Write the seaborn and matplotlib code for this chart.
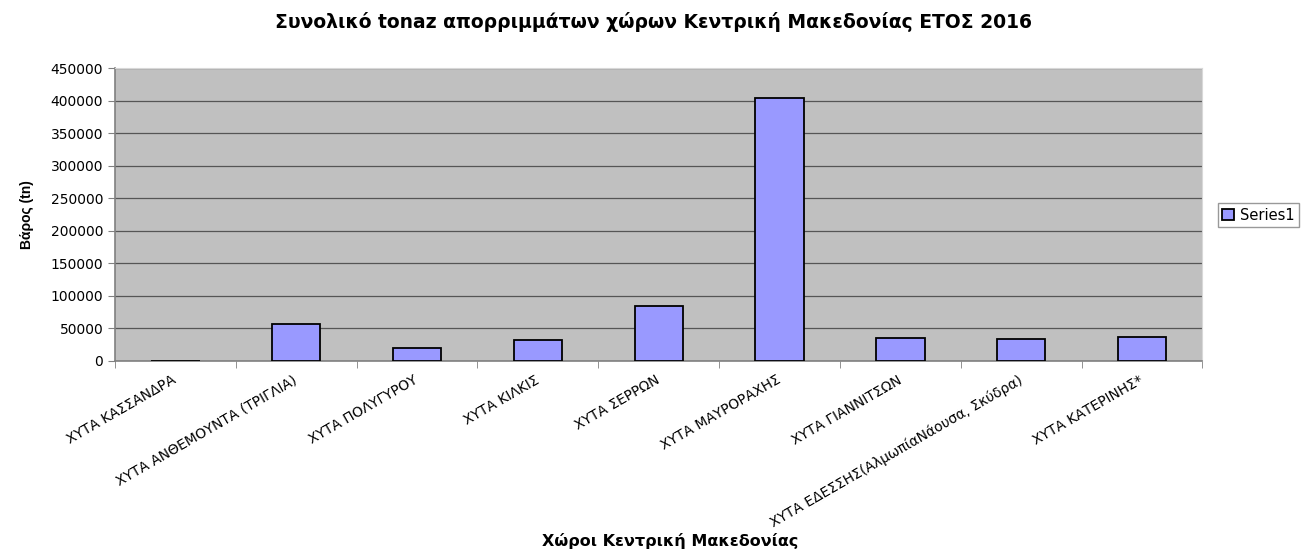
import pandas as pd
import matplotlib.pyplot as plt
import seaborn as sns

sites = [
    "ΧΥΤΑ ΚΑΣΣΑΝΔΡΑ",
    "ΧΥΤΑ ΑΝΘΕΜΟΥΝΤΑ (ΤΡΙΓΛΙΑ)",
    "ΧΥΤΑ ΠΟΛΥΓΥΡΟΥ",
    "ΧΥΤΑ ΚΙΛΚΙΣ",
    "ΧΥΤΑ ΣΕΡΡΩΝ",
    "ΧΥΤΑ ΜΑΥΡΟΡΑΧΗΣ",
    "ΧΥΤΑ ΓΙΑΝΝΙΤΣΩΝ",
    "ΧΥΤΑ ΕΔΕΣΣΗΣ(ΑλμωπίαΝάουσα, Σκύδρα)",
    "ΧΥΤΑ ΚΑΤΕΡΙΝΗΣ*",
]
tonnes = [0, 57200, 19600, 31400, 84500, 403500, 35000, 34000, 36600]
yticks = [0, 50000, 100000, 150000, 200000, 250000, 300000, 350000, 400000, 450000]

df = pd.DataFrame({"site": sites, "tn": tonnes})

sns.set_style("ticks")
plt.rcParams["font.family"] = ["DejaVu Sans"]
plt.rcParams["text.color"] = "black"
plt.rcParams["axes.labelcolor"] = "black"
plt.rcParams["xtick.labelcolor"] = "black"
plt.rcParams["ytick.labelcolor"] = "black"

fig = plt.figure(figsize=(13.07, 5.5), dpi=100)
ax = fig.add_axes([0.088, 0.344, 0.832, 0.532])

sns.barplot(data=df, x="site", y="tn", color="#9999FF", saturation=1,
            edgecolor="black", linewidth=1.3, width=0.4, ax=ax, label="Series1",
            zorder=3)

ax.set_facecolor("#C0C0C0")
ax.set_ylim(0, 450000)
ax.set_yticks(yticks)
ax.set_yticklabels([str(v) for v in yticks], fontsize=10)
ax.yaxis.grid(True, color="#555555", linewidth=0.9, zorder=0)
ax.set_axisbelow(True)

ax.set_xlim(-0.5, len(sites) - 0.5)
ax.set_xticks(range(len(sites)))
ax.set_xticklabels(sites, rotation=30, ha="right", va="center",
                   rotation_mode="anchor", fontsize=10)
ax.tick_params(axis="x", length=0, pad=13)
ax.set_xticks([i - 0.5 for i in range(len(sites) + 1)], minor=True)
ax.tick_params(axis="x", which="minor", length=5, color="#808080")
ax.tick_params(axis="y", length=5, color="#808080")

for side in ["left", "bottom"]:
    ax.spines[side].set_color("#808080")
    ax.spines[side].set_linewidth(1.2)
for side in ["top", "right"]:
    ax.spines[side].set_color("#D8D8D8")

ax.set_xlabel("")
ax.set_ylabel("Βάρος (tn)", fontsize=10, fontweight="bold",
              family=["Liberation Sans Narrow", "Liberation Sans"], labelpad=12)

fig.text(0.5, 0.96, "Συνολικό tonaz απορριμμάτων χώρων Κεντρική Μακεδονίας ΕΤΟΣ 2016",
         ha="center", va="center", fontsize=13.5, fontweight="bold")
fig.text(0.513, 0.016, "Χώροι Κεντρική Μακεδονίας", ha="center", va="center",
         fontsize=11.5, fontweight="bold")

ax.legend(loc="center left", bbox_to_anchor=(0.932, 0.609), bbox_transform=fig.transFigure,
          fontsize=10.5, frameon=True, fancybox=False, edgecolor="#808080",
          handlelength=0.8, handleheight=0.8, handletextpad=0.4, borderpad=0.3,
          borderaxespad=0)

fig.savefig("out.png", dpi=100)
